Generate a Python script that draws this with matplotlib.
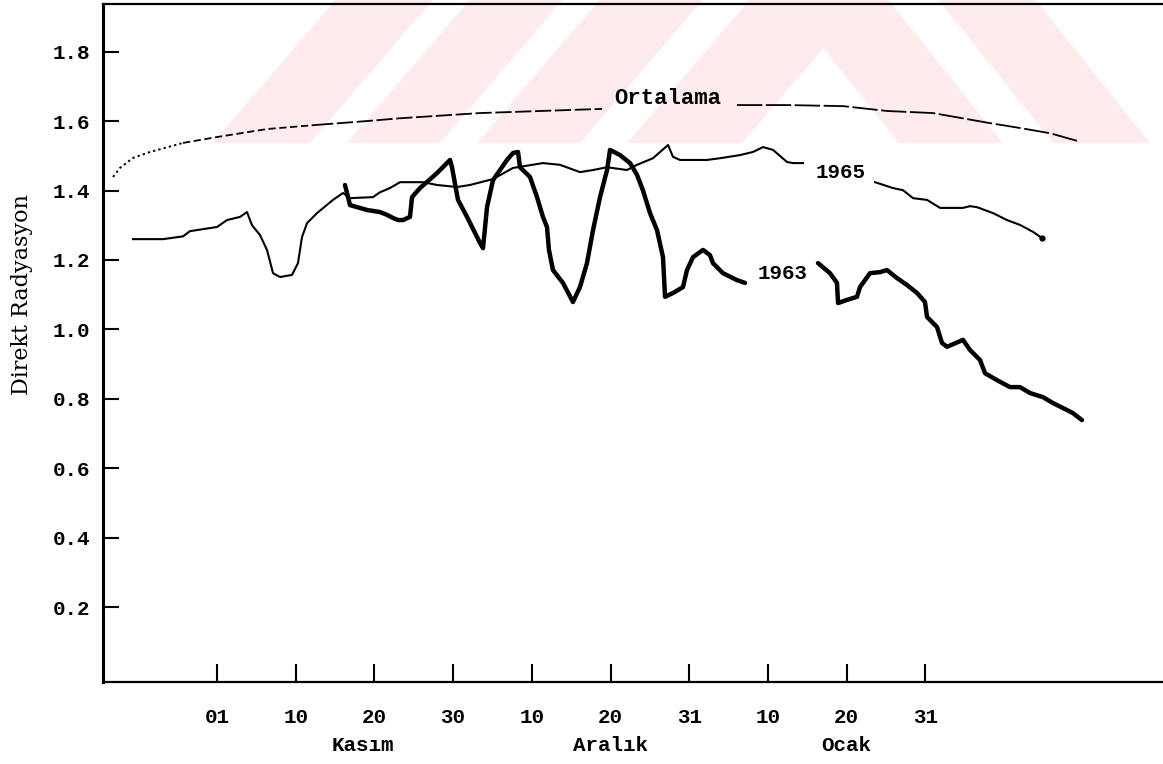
import numpy as np
import matplotlib
matplotlib.use('Agg')
import matplotlib.pyplot as plt
from matplotlib.patches import Polygon

plt.rcParams['font.family'] = ['Liberation Mono', 'DejaVu Sans Mono']
plt.rcParams['font.weight'] = 'bold'

W, H = 1163, 764

# x positions are in units of the equally spaced date ticks (0 = "01 Kasım")
tick_pos = [0, 1, 2, 3, 4, 5, 6, 7, 8, 9]
tick_labels = ['01', '10', '20', '30', '10', '20', '31', '10', '20', '31']
months = ['Kasım', 'Aralık', 'Ocak']
month_pos = [1.85, 5.0, 8.0]
y_ticks = [0.2, 0.4, 0.6, 0.8, 1.0, 1.2, 1.4, 1.6, 1.8]

# Ortalama (mean) curve, split where the label interrupts it
ort_left_x = [-1.321, -1.233, -1.067, -0.851, -0.432, 0.0, 0.635, 1.271, 1.906,
              2.325, 3.342, 4.892]
ort_left_y = [1.439, 1.465, 1.494, 1.511, 1.537, 1.554, 1.577, 1.589, 1.600,
              1.608, 1.623, 1.635]
ort_right_x = [6.607, 7.243, 7.954, 8.513, 9.098, 9.822, 10.203, 10.584, 10.928]
ort_right_y = [1.646, 1.646, 1.643, 1.629, 1.623, 1.594, 1.580, 1.565, 1.543]

# 1965 curve (thin)
y65_a_x = [-1.067, -0.686, -0.432, -0.343, 0.0, 0.127, 0.292, 0.381, 0.445, 0.546,
           0.635, 0.712, 0.801, 0.953, 1.029, 1.080, 1.144, 1.271, 1.474, 1.601,
           1.690, 1.982, 2.071, 2.198, 2.325, 2.618, 2.795, 3.050, 3.215, 3.507,
           3.761, 4.142, 4.358, 4.612, 4.778, 4.956, 5.210, 5.337, 5.540, 5.731,
           5.794, 5.883, 6.226, 6.391, 6.645, 6.811, 6.938, 7.065, 7.243, 7.319, 7.446]
y65_a_y = [1.260, 1.260, 1.268, 1.283, 1.295, 1.315, 1.324, 1.338, 1.300, 1.272,
           1.229, 1.162, 1.151, 1.157, 1.191, 1.266, 1.306, 1.335, 1.373, 1.393,
           1.378, 1.381, 1.395, 1.407, 1.424, 1.424, 1.416, 1.410, 1.416, 1.433,
           1.465, 1.479, 1.474, 1.453, 1.459, 1.467, 1.459, 1.474, 1.493, 1.531,
           1.497, 1.488, 1.488, 1.493, 1.502, 1.511, 1.525, 1.517, 1.482, 1.479, 1.479]
y65_b_x = [8.361, 8.590, 8.717, 8.844, 9.022, 9.187, 9.479, 9.568, 9.657, 9.860,
           10.038, 10.203, 10.369, 10.483]
y65_b_y = [1.424, 1.407, 1.401, 1.378, 1.373, 1.350, 1.350, 1.355, 1.352, 1.335,
           1.315, 1.301, 1.281, 1.263]

# 1963 curve (bold)
y63_a_x = [1.626, 1.665, 1.690, 1.906, 2.071, 2.160, 2.236, 2.300, 2.363, 2.452,
           2.478, 2.579, 2.795, 2.961, 2.986, 3.062, 3.177, 3.342, 3.380, 3.431,
           3.507, 3.685, 3.761, 3.825, 3.850, 3.977, 4.066, 4.142, 4.193, 4.218,
           4.269, 4.396, 4.523, 4.612, 4.701, 4.778, 4.867, 4.956, 4.994, 5.121,
           5.248, 5.337, 5.413, 5.502, 5.591, 5.667, 5.693, 5.794, 5.921, 5.972,
           6.048, 6.175, 6.264, 6.302, 6.429, 6.607, 6.709]
y63_a_y = [1.416, 1.381, 1.358, 1.344, 1.338, 1.330, 1.321, 1.315, 1.315, 1.324,
           1.381, 1.407, 1.450, 1.488, 1.467, 1.373, 1.324, 1.249, 1.234, 1.352,
           1.430, 1.488, 1.508, 1.511, 1.467, 1.439, 1.381, 1.324, 1.295, 1.229,
           1.171, 1.134, 1.079, 1.122, 1.191, 1.286, 1.381, 1.459, 1.517, 1.502,
           1.479, 1.445, 1.400, 1.335, 1.286, 1.208, 1.094, 1.105, 1.122, 1.171,
           1.208, 1.229, 1.214, 1.191, 1.162, 1.142, 1.134]
y63_b_x = [7.637, 7.789, 7.878, 7.891, 8.005, 8.132, 8.170, 8.297, 8.424, 8.513,
           8.640, 8.767, 8.895, 8.996, 9.022, 9.149, 9.212, 9.276, 9.479, 9.568,
           9.695, 9.759, 9.911, 10.076, 10.203, 10.330, 10.496, 10.623, 10.800,
           10.877, 10.991]
y63_b_y = [1.191, 1.162, 1.134, 1.076, 1.085, 1.094, 1.122, 1.162, 1.165, 1.171,
           1.148, 1.128, 1.105, 1.079, 1.036, 1.007, 0.961, 0.950, 0.970, 0.941,
           0.912, 0.874, 0.854, 0.834, 0.834, 0.817, 0.805, 0.788, 0.768, 0.759,
           0.739]

fig = plt.figure(figsize=(W / 100, H / 100), dpi=100)
fig.patch.set_facecolor('white')

# faint pink watermark stripes at the top of the page
pink = '#fdebee'
def fig_xy(px, py):
    return (px / W, 1 - py / H)
for a, b in [(213, 310), (347, 440), (477, 580), (627, 742)]:
    pts = [(a, 143), (b, 143), (b + 122.5, 0), (a + 122.5, 0)]
    fig.patches.append(Polygon([fig_xy(*p) for p in pts], closed=True,
                               transform=fig.transFigure, facecolor=pink,
                               edgecolor='none', zorder=-5))
for a, b in [(899, 1003), (1053, 1150)]:
    pts = [(a, 143), (b, 143), (b - 114.4, 0), (a - 114.4, 0)]
    fig.patches.append(Polygon([fig_xy(*p) for p in pts], closed=True,
                               transform=fig.transFigure, facecolor=pink,
                               edgecolor='none', zorder=-5))

ax = fig.add_axes([103 / W, 1 - 682 / H, 1 - 103 / W, (682 - 4) / H])
ax.patch.set_visible(False)
ax.set_xlim((103 - 217) / 78.7, (1163 - 217) / 78.7)
ax.set_ylim(-0.015, 1.937)

# Ortalama
ox = np.array(ort_left_x); oy = np.array(ort_left_y)
ax.plot(ox[:5], oy[:5], color='black', lw=1.4, ls=(0, (1.2, 1.6)))
ax.plot(ox[4:8], oy[4:8], color='black', lw=1.3, ls=(0, (4, 2)))
ax.plot(ox[7:], oy[7:], color='black', lw=1.3, ls=(0, (9, 2)))
ax.plot(ort_right_x, ort_right_y, color='black', lw=1.3, ls=(0, (14, 2)))

# 1965
ax.plot(y65_a_x, y65_a_y, color='black', lw=1.5)
ax.plot(y65_b_x, y65_b_y, color='black', lw=1.5)
ax.plot(y65_b_x[-1], y65_b_y[-1], 'o', color='black', ms=3.5)

# 1963
ax.plot(y63_a_x, y63_a_y, color='black', lw=3.2, solid_capstyle='round')
ax.plot(y63_b_x, y63_b_y, color='black', lw=3.2, solid_capstyle='round')

ax.text(5.731, 1.665, 'Ortalama', ha='center', va='center', fontsize=16)
ax.text(7.929, 1.453, '1965', ha='center', va='center', fontsize=15)
ax.text(7.192, 1.160, '1963', ha='center', va='center', fontsize=15)

ax.set_xticks(tick_pos)
ax.set_xticklabels(tick_labels)
ax.set_yticks(y_ticks)
ax.set_yticklabels([f'{v:.1f}' for v in y_ticks])
ax.tick_params(axis='y', direction='in', length=11.5, width=1.5, pad=9, labelsize=15)
ax.tick_params(axis='x', direction='in', length=13, width=1.5, pad=19, labelsize=15)

for m, p in zip(months, month_pos):
    ax.annotate(m, xy=(p, 0), xycoords=('data', 'axes fraction'),
                xytext=(0, -46), textcoords='offset points',
                ha='center', va='center', fontsize=15)

ax.spines['right'].set_visible(False)
ax.spines['left'].set_linewidth(2.2)
ax.spines['bottom'].set_linewidth(1.6)
ax.spines['top'].set_linewidth(1.6)

fig.text(22 / W, 1 - 295 / H, 'Direkt Radyasyon', rotation=90, ha='center',
         va='center', fontsize=16, family='DejaVu Serif', weight='normal')

fig.savefig('out.png', dpi=100)
